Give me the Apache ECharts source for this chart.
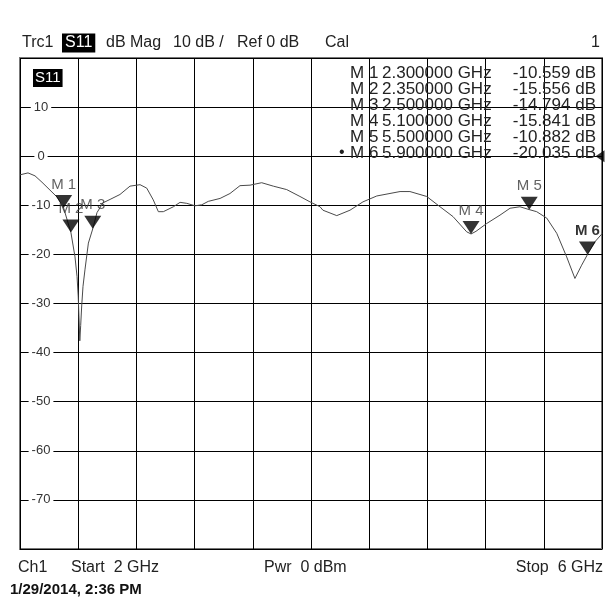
<!DOCTYPE html>
<html>
<head>
<meta charset="utf-8">
<script src="https://cdn.jsdelivr.net/npm/echarts@6/dist/echarts.min.js"></script>
<style>
html,body{margin:0;padding:0;background:#fff;}
#c{width:615px;height:603px;}
</style>
</head>
<body>
<div id="c"></div>
<script>
// ---- data ----
const freqGHz = [2.000,2.055,2.103,2.151,2.206,2.254,2.300,2.350,2.378,2.392,2.400,2.405,2.411,2.417,2.424,2.433,2.447,2.470,2.500,2.529,2.570,2.619,2.687,2.756,2.825,2.871,2.916,2.951,2.985,3.054,3.100,3.146,3.203,3.249,3.294,3.375,3.443,3.512,3.581,3.661,3.741,3.833,3.924,3.993,4.062,4.082,4.177,4.268,4.357,4.452,4.612,4.680,4.795,4.887,4.976,5.070,5.100,5.134,5.208,5.299,5.368,5.436,5.500,5.551,5.620,5.689,5.757,5.814,5.860,5.900,5.952,6.000];
const s11dB   = [-3.8,-3.4,-4.0,-5.3,-6.9,-8.3,-10.56,-15.56,-20.5,-24.5,-28.5,-32.5,-37.6,-34.5,-30.5,-26.5,-23.0,-17.7,-14.79,-11.5,-9.5,-8.8,-7.8,-6.1,-5.8,-6.5,-8.9,-11.3,-11.3,-10.3,-9.4,-9.6,-10.1,-9.9,-9.2,-8.6,-7.6,-6.0,-5.9,-5.4,-6.1,-6.8,-8.2,-9.3,-10.3,-11.0,-12.1,-11.0,-9.3,-8.1,-7.2,-7.2,-8.2,-10.3,-12.3,-15.4,-15.84,-15.3,-13.7,-12.0,-10.6,-10.3,-10.88,-11.3,-12.6,-15.7,-20.5,-24.9,-22.2,-20.04,-17.4,-15.8];

const markerNames = ['M 1','M 2','M 3','M 4','M 5','M 6'];
const markerFreq  = [2.30, 2.35, 2.50, 5.10, 5.50, 5.90];
const markerDb    = [-10.559,-15.556,-14.794,-15.841,-10.882,-20.035];
const activeMarker = 5;

const yTickLabels = [10,0,-10,-20,-30,-40,-50,-60,-70];
const refLevelDb = 0;
const startGHz = 2, stopGHz = 6;

// ---- chart ----
const FONT = '"Liberation Sans", Arial, sans-serif';
const chart = echarts.init(document.getElementById('c'), null, {renderer:'canvas'});

const lineData = freqGHz.map((f,i)=>[f, s11dB[i]]);
const markerData = markerFreq.map((f,i)=>({
  value:[f, markerDb[i]],
  name: markerNames[i],
  label: i===activeMarker ? {fontWeight:'bold', color:'#000'} : {}
}));

const graphics = [];
function txt(x,y,text,opt){
  graphics.push({type:'text', x:x, y:y, silent:true, z:100,
    style:Object.assign({text:text, fill:'#222', font:'15px '+FONT, textVerticalAlign:'middle', verticalAlign:'middle'}, opt||{})});
}
// header
txt(22,43,'Trc1',{font:'16px '+FONT});
txt(62,43,'S11',{font:'16px '+FONT, fill:'#fff', backgroundColor:'#000', padding:[2,3,1,3]});
txt(106,43,'dB Mag',{font:'16px '+FONT});
txt(173,43,'10 dB /',{font:'16px '+FONT});
txt(237,43,'Ref 0 dB',{font:'16px '+FONT});
txt(325,43,'Cal',{font:'16px '+FONT});
txt(600,43,'1',{font:'16px '+FONT, align:'right', textAlign:'right'});
// in-plot trace label
txt(33,78,'S11',{font:'15px '+FONT, fill:'#fff', backgroundColor:'#000', padding:[2,2,1,2]});
// marker table
markerNames.forEach((n,i)=>{
  const y = 73 + i*16;
  if(i===activeMarker) txt(339,y,'\u2022',{font:'16px '+FONT});
  txt(350,y,n,{font:'17px '+FONT});
  txt(382,y,markerFreq[i].toFixed(6)+' GHz',{font:'17px '+FONT});
  txt(596,y,markerDb[i].toFixed(3)+' dB',{font:'17px '+FONT, align:'right', textAlign:'right'});
});
// footer
txt(18,568,'Ch1',{font:'16px '+FONT});
txt(71,568,'Start  '+startGHz+' GHz',{font:'16px '+FONT});
txt(264,568,'Pwr  0 dBm',{font:'16px '+FONT});
txt(603,568,'Stop  '+stopGHz+' GHz',{font:'16px '+FONT, align:'right', textAlign:'right'});
txt(10,590,'1/29/2014, 2:36 PM',{font:'bold 15px '+FONT, fill:'#111'});

const option = {
  animation:false,
  backgroundColor:'#fff',
  grid:{left:20, right:13, top:58, bottom:54, show:true, borderColor:'#777', borderWidth:2, backgroundColor:'#fff'},
  xAxis:{type:'value', min:startGHz, max:stopGHz, interval:0.4,
    axisLine:{show:false}, axisTick:{show:false}, axisLabel:{show:false},
    splitLine:{show:true, lineStyle:{color:'#000', width:1}}},
  yAxis:{type:'value', min:-80, max:20, interval:10,
    axisLine:{show:false}, axisTick:{show:false},
    splitLine:{show:true, lineStyle:{color:'#000', width:1}},
    axisLabel:{inside:true, margin:21, align:'center', color:'#333', fontSize:13, fontFamily:FONT,
      backgroundColor:'#fff', padding:[0,3],
      formatter:v=> yTickLabels.indexOf(v)>=0 ? String(v) : ''}},
  graphic:graphics,
  series:[
    {type:'line', data:lineData, showSymbol:false, symbol:'none', smooth:false,
      lineStyle:{color:'#4a4a4a', width:1}, z:3, silent:true},
    {type:'scatter', data:markerData, symbol:'path://M0,0 L14,0 L7,11 Z', symbolSize:[17,13], symbolOffset:[0,-6.5],
      itemStyle:{color:'#000'}, z:5,
      label:{show:true, position:'top', distance:3, formatter:p=>p.name, color:'#3a3a3a', fontSize:15, fontFamily:FONT}},
    {type:'scatter', data:[[stopGHz, refLevelDb]], symbol:'path://M10,0 L10,12 L0,6 Z', symbolSize:[9,12], symbolOffset:[-2,0],
      itemStyle:{color:'#000'}, z:6}
  ]
};
chart.setOption(option);
</script>
</body>
</html>
